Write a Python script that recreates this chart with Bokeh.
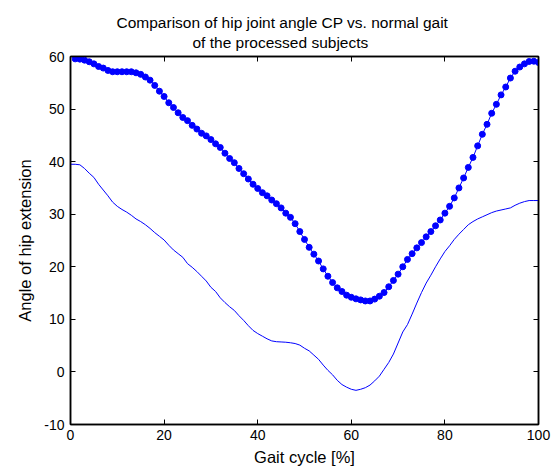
from bokeh.plotting import figure
from bokeh.models import LinearAxis, FixedTicker, Range1d, Title
from bokeh.embed import file_html
from bokeh.resources import INLINE

# ---- data ----
gait_cp = list(range(1, 101))
angle_cp = [
    59.55, 59.5, 59.3, 59.0, 58.6, 58.1, 57.8, 57.35, 57.1, 57.1,
    57.1, 57.1, 57.1, 56.9, 56.6, 56.1, 55.5, 54.5, 53.4, 52.4,
    51.2, 50.3, 49.3, 48.4, 47.8, 46.9, 46.2, 45.4, 44.9, 44.2,
    43.4, 42.7, 41.6, 40.6, 39.8, 38.7, 37.7, 36.7, 35.7, 34.9,
    34.1, 33.5, 32.7, 32.0, 31.2, 30.2, 29.4, 28.2, 26.7, 25.2,
    23.7, 22.4, 21.1, 19.6, 18.2, 17.0, 16.0, 15.3, 14.6, 14.2,
    13.9, 13.7, 13.5, 13.5, 13.85, 14.4, 15.1, 16.2, 17.4, 18.6,
    20.0, 21.4, 22.5, 23.6, 24.6, 25.7, 26.7, 27.8, 28.9, 30.2,
    31.5, 33.1, 35.0, 36.9, 38.9, 40.8, 43.0, 45.2, 47.1, 49.2,
    50.9, 52.7, 54.2, 55.9, 57.2, 58.0, 58.6, 59.05, 59.1, 58.85,
]

gait_normal = list(range(0, 101))
angle_normal = [
    39.5,
    39.5, 39.4, 38.7, 37.8, 37.0, 35.7, 34.6, 33.5, 32.3, 31.5,
    30.9, 30.4, 29.8, 29.1, 28.6, 28.0, 27.3, 26.5, 25.8, 25.1,
    24.1, 23.2, 22.5, 21.8, 20.6, 19.9, 19.1, 18.2, 17.3, 16.1,
    15.3, 14.1, 13.2, 12.4, 11.7, 10.7, 9.8, 8.8, 7.9, 7.3,
    6.8, 6.3, 5.9, 5.75, 5.7, 5.65, 5.55, 5.4, 5.1, 4.5,
    4.0, 3.2, 2.4, 1.3, 0.3, -0.55, -1.6, -2.4, -2.9, -3.3,
    -3.5, -3.3, -3.0, -2.5, -1.7, -0.8, 0.5, 1.8, 3.4, 5.5,
    7.6, 9.0, 11.0, 13.1, 15.1, 16.9, 18.4, 20.0, 21.5, 22.9,
    24.0, 25.2, 26.2, 27.1, 28.0, 28.6, 29.1, 29.5, 29.9, 30.3,
    30.6, 30.8, 31.0, 31.2, 31.7, 32.1, 32.4, 32.6, 32.6, 32.6,
]

x_ticks = [0, 20, 40, 60, 80, 100]
y_ticks = [-10, 0, 10, 20, 30, 40, 50, 60]

title_line1 = "Comparison of hip joint angle CP vs. normal gait"
title_line2 = "of the processed subjects"
x_label = "Gait cycle [%]"
y_label = "Angle of hip extension"

FONT = "Liberation Sans"
BLUE = "#0000FF"

p = figure(
    width=560, height=470,
    x_range=Range1d(0, 100), y_range=Range1d(-10, 60),
    output_backend="svg", toolbar_location=None,
    min_border_left=70, min_border_right=22,
    min_border_top=56, min_border_bottom=46,
    title=None,
)

p.xgrid.visible = False
p.ygrid.visible = False
p.outline_line_color = "black"
p.outline_line_width = 1.5
p.background_fill_color = "white"
p.border_fill_color = "white"


def style_axis(ax, ticks, show_labels):
    ax.ticker = FixedTicker(ticks=ticks)
    ax.major_tick_in = 5
    ax.major_tick_out = 0
    ax.major_tick_line_color = "black"
    ax.minor_tick_line_color = None
    ax.axis_line_color = "black"
    ax.axis_line_width = 1.5
    if show_labels:
        ax.major_label_text_font = FONT
        ax.major_label_text_font_size = "14px"
        ax.major_label_text_color = "black"
        ax.major_label_overrides = {t: str(t) for t in ticks}
        ax.axis_label_text_font = FONT
        ax.axis_label_text_font_size = "16.5px"
        ax.axis_label_text_font_style = "normal"
        ax.axis_label_text_color = "black"
    else:
        ax.major_label_text_font_size = "1px"
        ax.major_label_text_color = None
        ax.major_label_standoff = 0


style_axis(p.xaxis[0], x_ticks, True)
style_axis(p.yaxis[0], y_ticks, True)
p.xaxis[0].axis_label = x_label
p.xaxis[0].major_label_standoff = 5
p.xaxis[0].axis_label_standoff = 5
p.yaxis[0].axis_label = y_label
p.yaxis[0].major_label_standoff = 6
p.yaxis[0].axis_label_standoff = 7

top_axis = LinearAxis()
style_axis(top_axis, x_ticks, False)
p.add_layout(top_axis, "above")
right_axis = LinearAxis()
style_axis(right_axis, y_ticks, False)
p.add_layout(right_axis, "right")

# two centred title lines (centred on the whole figure, as in the reference)
for line_text, gap, shift, valign in ((title_line2, 7, 122, "top"),
                                      (title_line1, 0, 46, "bottom")):
    t = Title(text=line_text, align="left", offset=shift, text_font=FONT,
              text_font_size="15.5px", text_font_style="normal",
              text_color="black", standoff=gap, vertical_align=valign)
    p.add_layout(t, "above")

# normal gait (thin line)
p.line(gait_normal, angle_normal, line_color=BLUE, line_width=1)
# CP subjects (line with dots)
p.line(gait_cp, angle_cp, line_color=BLUE, line_width=1)
p.scatter(gait_cp, angle_cp, size=6, fill_color=BLUE, line_color=BLUE)

open("out.html", "w").write(file_html(p, INLINE))
